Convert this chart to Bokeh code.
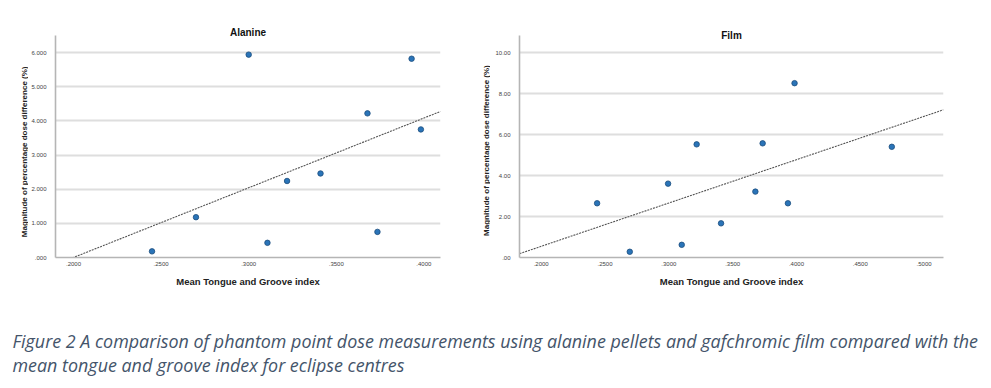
import numpy as np
from math import pi
from bokeh.plotting import figure
from bokeh.layouts import column, row
from bokeh.models import FixedTicker, Label, Range1d
from bokeh.core.properties import value
from bokeh.embed import file_html
from bokeh.resources import INLINE

# ---- data ----
alanine_x = [0.2448, 0.2699, 0.3000, 0.3107, 0.3219, 0.3410, 0.3678, 0.3735, 0.3930, 0.3983]
alanine_y = [0.18, 1.18, 5.94, 0.43, 2.24, 2.46, 4.22, 0.75, 5.82, 3.75]

film_x = [0.2438, 0.2694, 0.2994, 0.3101, 0.3218, 0.3409, 0.3678, 0.3735, 0.3933, 0.3985, 0.4747]
film_y = [2.65, 0.28, 3.61, 0.62, 5.53, 1.67, 3.22, 5.58, 2.65, 8.52, 5.41]

alanine_xticks = [0.20, 0.25, 0.30, 0.35, 0.40]
alanine_xlabels = [".2000", ".2500", ".3000", ".3500", ".4000"]
alanine_yticks = [0, 1, 2, 3, 4, 5, 6]
alanine_ylabels = [".000", "1.000", "2.000", "3.000", "4.000", "5.000", "6.000"]

film_xticks = [0.20, 0.25, 0.30, 0.35, 0.40, 0.45, 0.50]
film_xlabels = [".2000", ".2500", ".3000", ".3500", ".4000", ".4500", ".5000"]
film_yticks = [0, 2, 4, 6, 8, 10]
film_ylabels = [".00", "2.00", "4.00", "6.00", "8.00", "10.00"]

titles = ["Alanine", "Film"]
x_title = "Mean Tongue and Groove index"
y_title = "Magnitude of percentage dose difference (%)"
caption_lines = [
    "Figure 2 A comparison of phantom point dose measurements using alanine pellets and gafchromic film compared with the",
    "mean tongue and groove index for eclipse centres",
]

FONT = "Liberation Sans"
H = 299


def make_panel(xs, ys, xticks, xlabels, yticks, ylabels, xr, yr, title,
               width, bl, br, bt, bb, title_standoff):
    p = figure(width=width, height=H, output_backend="svg", toolbar_location=None,
               x_range=Range1d(*xr), y_range=Range1d(*yr),
               min_border_left=bl, min_border_right=br, min_border_top=bt, min_border_bottom=bb)
    p.outline_line_color = None
    p.background_fill_color = "white"
    p.border_fill_color = "white"
    p.xgrid.grid_line_color = None
    p.ygrid.grid_line_color = "#dedede"
    p.ygrid.grid_line_width = 2
    p.xaxis.ticker = FixedTicker(ticks=xticks)
    p.yaxis.ticker = FixedTicker(ticks=yticks)
    p.ygrid.ticker = FixedTicker(ticks=yticks)
    p.xaxis.major_label_overrides = {t: l for t, l in zip(xticks, xlabels)}
    p.yaxis.major_label_overrides = {t: l for t, l in zip(yticks, ylabels)}
    for ax in (p.xaxis[0], p.yaxis[0]):
        ax.axis_line_color = "#b5b5b5"
        ax.axis_line_width = 1.6
        ax.major_tick_line_color = None
        ax.minor_tick_line_color = None
        ax.major_tick_out = 0
        ax.major_tick_in = 0
        ax.minor_tick_out = 0
        ax.minor_tick_in = 0
        ax.major_label_text_font = FONT
        ax.major_label_text_font_size = "6px"
        ax.major_label_text_color = "#444444"
    p.yaxis.axis_label = None
    p.yaxis.axis_label_standoff = 0
    p.yaxis.major_label_standoff = 9
    p.xaxis.major_label_standoff = 4
    p.xaxis.axis_label = x_title
    p.xaxis.axis_label_text_font = FONT
    p.xaxis.axis_label_text_font_style = "bold"
    p.xaxis.axis_label_text_font_size = "9.5px"
    p.xaxis.axis_label_text_color = "#222222"
    p.xaxis.axis_label_standoff = 7

    p.title.text = title
    p.title.align = "center"
    p.title.text_font = FONT
    p.title.text_font_style = "bold"
    p.title.text_font_size = "10px"
    p.title.text_color = "#111111"
    p.title.standoff = title_standoff

    # regression line (least squares fit of the points)
    slope, inter = np.polyfit(np.array(xs), np.array(ys), 1)
    lx = np.array([xr[0], xr[1]])
    p.line(lx, slope * lx + inter, line_color="#555555", line_width=1.1, line_dash="2 1")

    p.scatter(xs, ys, size=5.5, fill_color="#2a74b8", line_color="#1c4c7c", line_width=0.8)
    return p


def ylabel_fig(width, cx, cy):
    f = figure(width=width, height=H, output_backend="svg", toolbar_location=None,
               x_range=Range1d(0, width), y_range=Range1d(0, H), min_border=0)
    f.axis.visible = False
    f.grid.visible = False
    f.outline_line_color = None
    f.text(x=[cx], y=[H - cy], text=[y_title], angle=pi / 2, text_align="center",
           text_baseline="middle", text_font=value(FONT), text_font_style="bold",
           text_font_size="8px", text_color="#222222")
    return f


yl1 = ylabel_fig(28, 24, 156.7)
p1 = make_panel(alanine_x, alanine_y, alanine_xticks, alanine_xlabels, alanine_yticks,
                alanine_ylabels, (0.1897, 0.4095), (0, 6.50), titles[0],
                442, 27, 30, 32, 40, -4)
yl2 = ylabel_fig(20, 16, 155)
p2 = make_panel(film_x, film_y, film_xticks, film_xlabels, film_yticks, film_ylabels,
                (0.183, 0.5152), (0, 10.85), titles[1],
                501, 29, 48, 35, 42, -10)

CAP_H = 388 - H
cap = figure(width=991, height=CAP_H, output_backend="svg", toolbar_location=None,
             x_range=Range1d(0, 991), y_range=Range1d(0, CAP_H),
             min_border=0)
cap.axis.visible = False
cap.grid.visible = False
cap.outline_line_color = None
cap_y = [340, 364]
for line, yy in zip(caption_lines, cap_y):
    cap.add_layout(Label(x=12, y=388 - yy, text=line, text_align="left", text_baseline="middle",
                         text_font="Open Sans", text_font_style="italic",
                         text_font_size="17.9px", text_color="#44546A"))

layout = column(row(yl1, p1, yl2, p2), cap)
open("out.html", "w").write(file_html(layout, INLINE))
